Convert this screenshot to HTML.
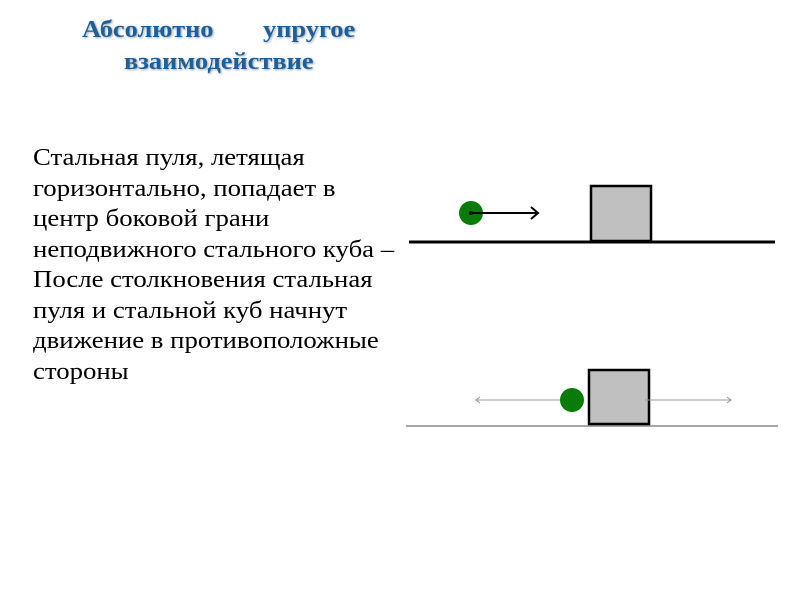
<!DOCTYPE html>
<html><head><meta charset="utf-8"><style>
body{margin:0;width:800px;height:600px;background:#fff;position:relative;overflow:hidden;font-family:"Liberation Serif","Noto Serif CJK SC",serif}
.t{position:absolute;color:#1f5f96;font-weight:bold;font-size:24px;text-shadow:1px 1px 2px #9ab;transform:scaleX(1.1);transform-origin:0 0}
.p{position:absolute;left:33px;top:143px;font-size:24px;line-height:30.5px;color:#000;white-space:pre;transform:scaleX(1.115);transform-origin:0 0}
</style></head><body>
<div class="t" style="left:82px;top:17px">Абсолютно</div>
<div class="t" style="left:263px;top:17px">упругое</div>
<div class="t" style="left:124px;top:49px">взаимодействие</div>
<div class="p">Стальная пуля, летящая
горизонтально, попадает в
центр боковой грани
неподвижного стального куба –
После столкновения стальная
пуля и стальной куб начнут
движение в противоположные
стороны</div>
<svg width="800" height="600" style="position:absolute;left:0;top:0">
<line x1="409" y1="242" x2="775" y2="242" stroke="#000" stroke-width="3"/>
<rect x="591" y="186" width="60" height="55" fill="#c0c0c0" stroke="#000" stroke-width="2.5"/>
<circle cx="471" cy="213" r="12" fill="#0a7a0a"/>
<line x1="471" y1="213" x2="537" y2="213" stroke="#000" stroke-width="2"/>
<polyline points="531,207 538,213 531,219" fill="none" stroke="#000" stroke-width="2"/>
<circle cx="471" cy="213" r="2" fill="#000"/>
<line x1="406" y1="426" x2="778" y2="426" stroke="#888" stroke-width="1.5"/>
<rect x="589" y="370" width="60" height="54" fill="#c0c0c0" stroke="#000" stroke-width="2.5"/>
<line x1="476" y1="400" x2="572" y2="400" stroke="#999" stroke-width="1"/>
<polyline points="480,397 476,400 480,403" fill="none" stroke="#999" stroke-width="1"/>
<line x1="645" y1="400" x2="731" y2="400" stroke="#999" stroke-width="1"/>
<polyline points="727,397 731,400 727,403" fill="none" stroke="#999" stroke-width="1"/>
<circle cx="572" cy="400" r="12" fill="#0a7a0a"/>
</svg>
</body></html>
